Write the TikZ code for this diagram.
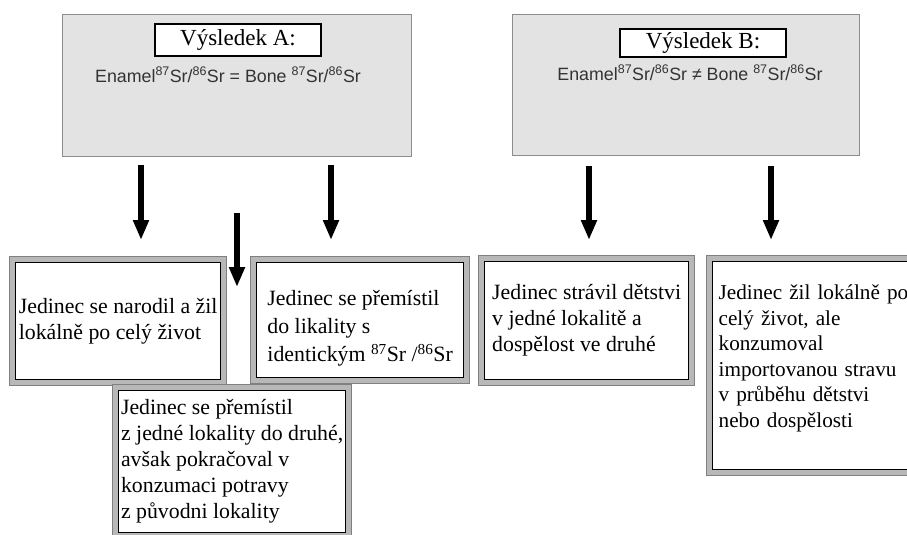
\documentclass[tikz,border=0pt]{standalone}
\usepackage{fontspec}
\setmainfont{Liberation Serif}
\newfontfamily\arialf{Liberation Sans}
\usetikzlibrary{arrows.meta}
\begin{document}
\begin{tikzpicture}[x=1pt,y=-1pt,
  result/.style={draw=black!45, fill=black!11, line width=1.3pt, anchor=north west, inner sep=0pt},
  titlebox/.style={draw=black, fill=white, line width=1.4pt, inner sep=0pt, font=\fontsize{23}{26}\selectfont},
  formula/.style={anchor=base, inner sep=0pt, text=black!80, font=\arialf\fontsize{17.8}{22}\selectfont},
  framebox/.style={draw=black, line width=1.3pt, fill=white, anchor=north west, inner sep=0pt,
    align=left, font=\fontsize{21.8}{26}\selectfont,
    preaction={draw=black!50, line width=13pt},
    preaction={draw=black!28, line width=10.5pt}},
  bigarrow/.style={line width=6.5pt, -{Triangle[width=15pt,length=20pt]}}
]
\useasboundingbox (0,0) rectangle (907,535);
\clip (0,0) rectangle (907,535);
\fill[white] (0,0) rectangle (907,535);

% result boxes
\node[result, minimum width=349pt, minimum height=142pt] (A) at (62,14) {};
\node[result, minimum width=347pt, minimum height=141pt] (B) at (512,14) {};
\node[titlebox, minimum width=166pt, minimum height=32pt] (tA) at (238,40) {Výsledek A:};
\node[titlebox, minimum width=166pt, minimum height=28pt] (tB) at (703,43) {Výsledek B:};
\node[formula] (fA) at (228,82) {Enamel\textsuperscript{87}Sr/\textsuperscript{86}Sr = Bone \textsuperscript{87}Sr/\textsuperscript{86}Sr};
\node[formula] (fB) at (690,80) {Enamel\textsuperscript{87}Sr/\textsuperscript{86}Sr ≠ Bone \textsuperscript{87}Sr/\textsuperscript{86}Sr};

% outcome boxes
\node[framebox, minimum width=205pt, minimum height=117pt] (b1) at (15,262)
  {Jedinec se narodil a žil\\lokálně po celý život};
\node[framebox, font=\fontsize{21.8}{28}\selectfont, minimum width=207pt, minimum height=115pt] (b2) at (256,262)
  {\rule{0pt}{32pt}Jedinec se přemístil\\do likality s\\identickým \textsuperscript{87}Sr /\textsuperscript{86}Sr};
\node[framebox, minimum width=227pt, minimum height=142pt] (b3) at (118,390)
  {Jedinec se přemístil\\z jedné lokality do druhé,\\avšak pokračoval v\\konzumaci potravy\\z původni lokality};
\node[framebox, font=\fontsize{21.2}{25.6}\selectfont, inner xsep=6pt, text width=200pt, minimum height=208pt] (b5) at (712,261)
  {Jedinec žil lokálně po\\celý život, ale\\konzumoval\\importovanou stravu\\v průběhu dětstvi\\nebo dospělosti\rule[-19pt]{0pt}{19pt}};
\node[framebox, minimum width=204pt, minimum height=118pt] (b4) at (484,261)
  {Jedinec strávil dětstvi\\v jedné lokalitě a\\dospělost ve druhé};

% arrows
\coordinate (a1s) at (141,165); \coordinate (a1e) at (141,240);
\coordinate (a2s) at (331,165); \coordinate (a2e) at (331,240);
\coordinate (a3s) at (237,213); \coordinate (a3e) at (237,287);
\coordinate (b1s) at (589,166); \coordinate (b1e) at (589,240);
\coordinate (b2s) at (771,166); \coordinate (b2e) at (771,240);
\draw[bigarrow] (a1s) -- (a1e);
\draw[bigarrow] (a2s) -- (a2e);
\draw[bigarrow] (a3s) -- (a3e);
\draw[bigarrow] (b1s) -- (b1e);
\draw[bigarrow] (b2s) -- (b2e);
\end{tikzpicture}
\end{document}
